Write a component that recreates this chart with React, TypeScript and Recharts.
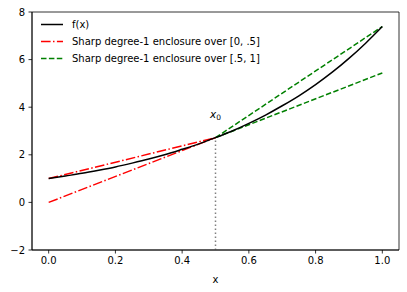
import React from 'react';
import {
  LineChart,
  Line,
  XAxis,
  YAxis,
  ReferenceDot,
  ReferenceArea,
} from 'recharts';

const fX = [0, 0.05, 0.1, 0.15, 0.2, 0.25, 0.3, 0.35, 0.4, 0.45, 0.5, 0.55, 0.6, 0.65, 0.7, 0.75, 0.8, 0.85, 0.9, 0.95, 1.0];
const fY = [1.0, 1.11, 1.22, 1.35, 1.49, 1.65, 1.82, 2.01, 2.23, 2.46, 2.72, 3.0, 3.32, 3.67, 4.06, 4.48, 4.95, 5.47, 6.05, 6.69, 7.39];

// enclosure segments: [x, y] end points
const redUpper = [[0, 1.0], [0.5, 2.72]];
const redLower = [[0, 0.0], [0.5, 2.72]];
const greenUpper = [[0.5, 2.72], [1.0, 7.39]];
const greenLower = [[0.5, 2.72], [1.0, 5.44]];
const vline = [[0.5, -2], [0.5, 2.72]];

const xDomain = [-0.05, 1.05];
const yDomain = [-2, 8];
const xTicks = [0, 0.2, 0.4, 0.6, 0.8, 1.0];
const yTicks = [-2, 0, 2, 4, 6, 8];
const x0Label = { x: 0.5, y: 3.55 };

const legendItems = [
  { label: 'f(x)', color: '#000000', dash: undefined },
  { label: 'Sharp degree-1 enclosure over [0, .5]', color: '#ff0000', dash: '9.6 2.4 1.5 2.4' },
  { label: 'Sharp degree-1 enclosure over [.5, 1]', color: '#008000', dash: '5.5 2.4' },
];

const toPts = (arr: number[][]) => arr.map(([x, y]) => ({ x, y }));
const fData = fX.map((x, i) => ({ x, y: fY[i] }));

const FONT = '"DejaVu Sans", sans-serif';
const tickStyle = { fill: '#000', fontSize: 10, fontFamily: FONT };

const fmtY = (v: number) => (v < 0 ? `\u2212${Math.abs(v)}` : `${v}`);

export default function App() {
  return (
    <div style={{ position: 'absolute', left: 0, top: 0, width: 407, height: 292, background: '#fff' }}>
      <LineChart width={407} height={292} margin={{ top: 12, right: 8, left: 0, bottom: 0 }}>
        <XAxis
          type="number"
          dataKey="x"
          domain={xDomain}
          ticks={xTicks}
          tickFormatter={(v: number) => v.toFixed(1)}
          allowDataOverflow
          height={42}
          tickSize={3.5}
          tickMargin={3.5}
          tick={tickStyle}
          stroke="#000"
          axisLine={{ stroke: '#000', strokeWidth: 0.8 }}
          tickLine={{ stroke: '#000', strokeWidth: 0.8 }}
          label={{ value: 'x', position: 'insideBottom', offset: 9, fill: '#000', fontSize: 10, fontFamily: FONT }}
        />
        <YAxis
          type="number"
          domain={yDomain}
          ticks={yTicks}
          tickFormatter={fmtY}
          allowDataOverflow
          width={32}
          tickSize={3.5}
          tickMargin={3.5}
          tick={tickStyle}
          axisLine={{ stroke: '#000', strokeWidth: 0.8 }}
          tickLine={{ stroke: '#000', strokeWidth: 0.8 }}
        />
        {/* frame: top and right spines */}
        <ReferenceArea
          x1={xDomain[0]}
          x2={xDomain[1]}
          y1={yDomain[0]}
          y2={yDomain[1]}
          fill="none"
          fillOpacity={0}
          stroke="#000"
          strokeWidth={0.8}
          ifOverflow="visible"
        />
        <Line
          data={toPts(vline)}
          dataKey="y"
          type="linear"
          stroke="#808080"
          strokeWidth={1.5}
          strokeDasharray="1.5 2.5"
          dot={false}
          isAnimationActive={false}
        />
        <Line
          data={toPts(redUpper)}
          dataKey="y"
          type="linear"
          stroke="#ff0000"
          strokeWidth={1.5}
          strokeDasharray="9.6 2.4 1.5 2.4"
          dot={false}
          isAnimationActive={false}
        />
        <Line
          data={toPts(redLower)}
          dataKey="y"
          type="linear"
          stroke="#ff0000"
          strokeWidth={1.5}
          strokeDasharray="9.6 2.4 1.5 2.4"
          dot={false}
          isAnimationActive={false}
        />
        <Line
          data={toPts(greenUpper)}
          dataKey="y"
          type="linear"
          stroke="#008000"
          strokeWidth={1.5}
          strokeDasharray="5.5 2.4"
          dot={false}
          isAnimationActive={false}
        />
        <Line
          data={toPts(greenLower)}
          dataKey="y"
          type="linear"
          stroke="#008000"
          strokeWidth={1.5}
          strokeDasharray="5.5 2.4"
          dot={false}
          isAnimationActive={false}
        />
        <Line
          data={fData}
          dataKey="y"
          type="monotone"
          stroke="#000"
          strokeWidth={1.5}
          dot={false}
          isAnimationActive={false}
        />
        <ReferenceDot
          x={x0Label.x}
          y={x0Label.y}
          r={0}
          shape={(p: any) => (
            <text x={p.cx} y={p.cy} textAnchor="middle" fontFamily={FONT} fontSize={10.5} fill="#000">
              <tspan fontStyle="italic">x</tspan>
              <tspan fontSize={7.5} dy={2}>0</tspan>
            </text>
          )}
        />
      </LineChart>
      <div
        style={{
          position: 'absolute',
          left: 36,
          top: 16,
          fontFamily: FONT,
          fontSize: 10,
          lineHeight: '17px',
          color: '#000',
        }}
      >
        {legendItems.map((it) => (
          <div key={it.label} style={{ display: 'flex', alignItems: 'center', height: 17 }}>
            <svg width={36} height={17} style={{ display: 'block' }}>
              <line
                x1={5}
                x2={27}
                y1={8.5}
                y2={8.5}
                stroke={it.color}
                strokeWidth={1.5}
                strokeDasharray={it.dash}
              />
            </svg>
            <span style={{ whiteSpace: 'nowrap' }}>{it.label}</span>
          </div>
        ))}
      </div>
    </div>
  );
}
